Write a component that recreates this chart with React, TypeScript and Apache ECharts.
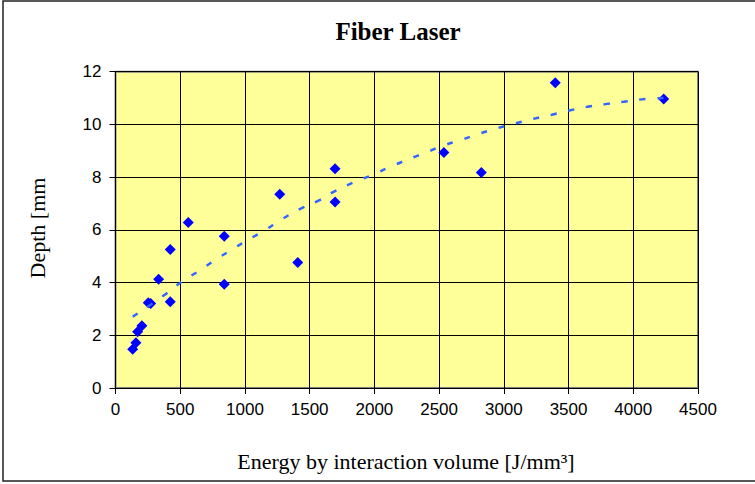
import React, { useEffect, useRef } from "react";
import * as echarts from "echarts";

const energy = [133, 158, 171, 204, 253, 272, 333, 423, 423, 562, 840, 840, 1269, 1408, 1696, 1696, 2537, 2826, 3397, 4235];
const depth = [1.47, 1.72, 2.13, 2.36, 3.23, 3.21, 4.13, 3.27, 5.25, 6.28, 5.76, 3.94, 7.35, 4.76, 8.32, 7.06, 8.93, 8.18, 11.58, 10.96];

const trendX = [133, 395, 511, 634, 768, 891, 1020, 1151, 1282, 1424, 1565, 1700, 1835, 1977, 2118, 2259, 2396, 2535, 2676, 2812, 2954, 3090, 3228, 3371, 3507, 3648, 3785, 3926, 4065, 4235];
const trendY = [2.7, 3.59, 4.03, 4.41, 4.85, 5.23, 5.61, 5.98, 6.39, 6.79, 7.1, 7.48, 7.79, 8.07, 8.38, 8.67, 8.93, 9.2, 9.42, 9.65, 9.86, 10.04, 10.21, 10.37, 10.53, 10.67, 10.77, 10.86, 10.95, 11.0];

const xTicks = { min: 0, max: 4500, interval: 500 };
const yTicks = { min: 0, max: 12, interval: 2 };

const titleText = "Fiber Laser";
const xTitle = "Energy by interaction volume [J/mm³]";
const yTitle = "Depth [mm";

export default function App() {
  const ref = useRef<HTMLDivElement>(null);
  useEffect(() => {
    document.body.style.margin = "0";
    const chart = echarts.init(ref.current!, null, { renderer: "svg" });
    const sans = "'Liberation Sans', Arial, sans-serif";
    const serif = "'Liberation Serif', 'Times New Roman', serif";
    chart.setOption({
      animation: false,
      backgroundColor: "#ffffff",
      grid: {
        left: 115.5,
        top: 71.7,
        width: 582.5,
        height: 316.3,
        show: true,
        backgroundColor: "#FFFF99",
        borderColor: "#808080",
        borderWidth: 2,
        containLabel: false,
      },
      xAxis: {
        type: "value",
        min: xTicks.min,
        max: xTicks.max,
        interval: xTicks.interval,
        axisLine: { show: true, onZero: false, lineStyle: { color: "#000", width: 1 } },
        axisTick: { show: true, length: 6, lineStyle: { color: "#000" } },
        axisLabel: { color: "#000", fontSize: 17, fontFamily: sans, margin: 13, formatter: (v: number) => String(v) },
        splitLine: { show: true, lineStyle: { color: "#000", width: 1 } },
      },
      yAxis: {
        type: "value",
        min: yTicks.min,
        max: yTicks.max,
        interval: yTicks.interval,
        axisLine: { show: true, onZero: false, lineStyle: { color: "#000", width: 1 } },
        axisTick: { show: true, length: 6, lineStyle: { color: "#000" } },
        axisLabel: { color: "#000", fontSize: 17, fontFamily: sans, margin: 14, formatter: (v: number) => String(v) },
        splitLine: { show: true, lineStyle: { color: "#000", width: 1 } },
      },
      graphic: [
        {
          type: "rect",
          shape: { x: 3, y: 1, width: 760, height: 480 },
          style: { fill: "none", stroke: "#222", lineWidth: 1.5 },
          silent: true,
        },
        {
          type: "text",
          x: 398,
          y: 31,
          style: {
            text: titleText,
            font: `bold 25px ${serif}`,
            fill: "#000",
            textAlign: "center",
            textVerticalAlign: "middle",
          },
        },
        {
          type: "text",
          x: 406,
          y: 461,
          style: {
            text: xTitle,
            font: `22px ${serif}`,
            fill: "#000",
            textAlign: "center",
            textVerticalAlign: "middle",
          },
        },
        {
          type: "text",
          x: 37,
          y: 228,
          rotation: Math.PI / 2,
          style: {
            text: yTitle,
            font: `22px ${serif}`,
            fill: "#000",
            textAlign: "center",
            textVerticalAlign: "middle",
          },
        },
      ],
      series: [
        {
          type: "scatter",
          data: energy.map((x, i) => [x, depth[i]]),
          symbol: "diamond",
          symbolSize: 11,
          itemStyle: { color: "#0000FF", opacity: 1 },
          z: 2,
        },
        {
          type: "line",
          data: trendX.map((x, i) => [x, trendY[i]]),
          showSymbol: false,
          smooth: true,
          lineStyle: { color: "#3366FF", width: 2.5, type: [6, 12] },
          z: 3,
        },
      ],
    });
    return () => chart.dispose();
  }, []);
  return <div ref={ref} style={{ width: 755, height: 484, position: "absolute", left: 0, top: 0 }} />;
}
